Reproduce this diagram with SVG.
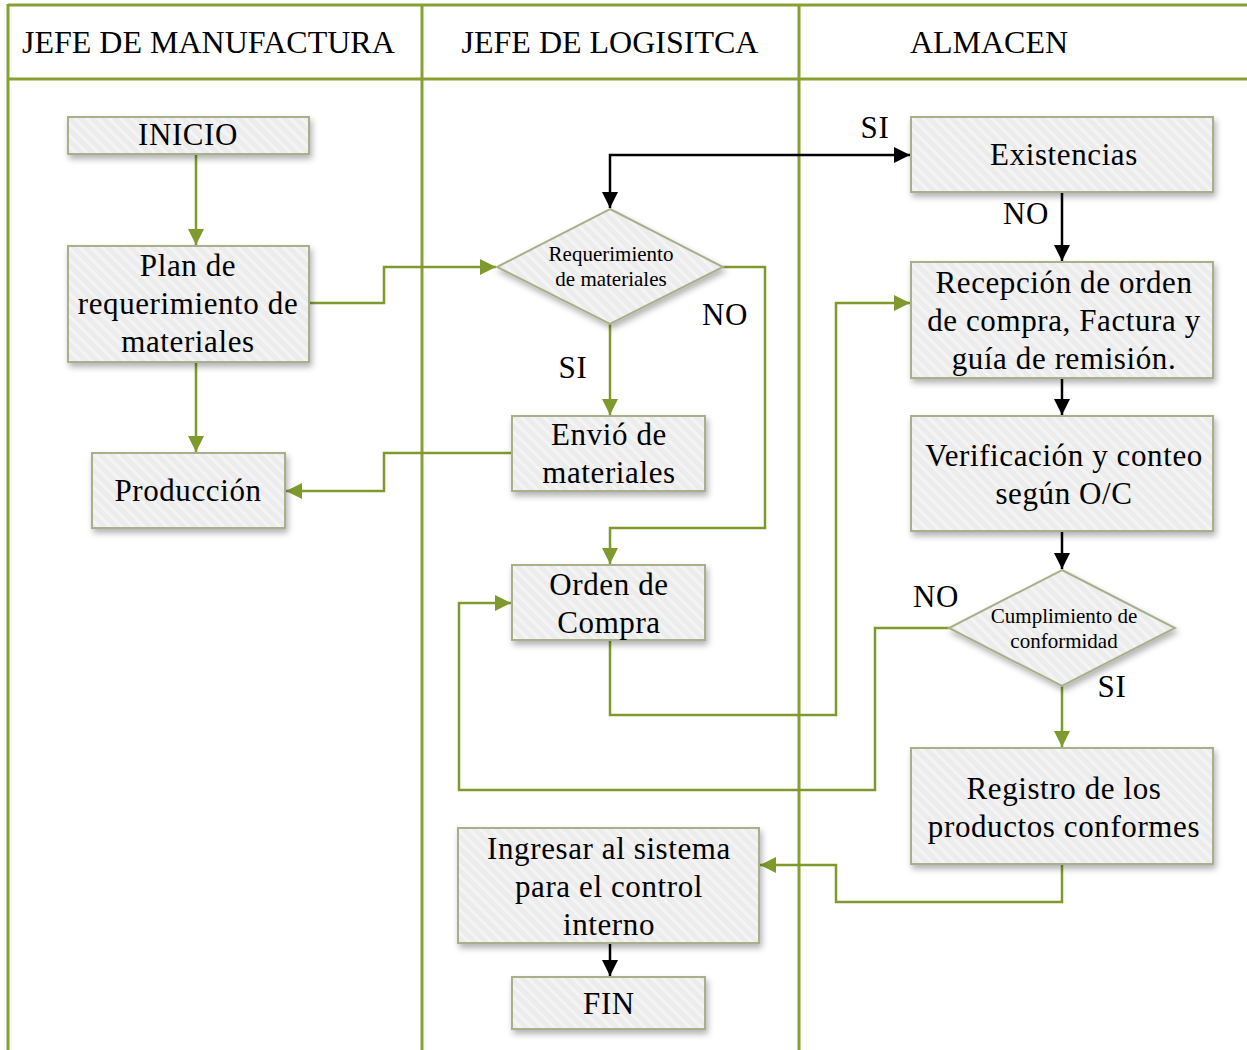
<svg xmlns="http://www.w3.org/2000/svg" width="1247" height="1050" viewBox="0 0 1247 1050">
<defs>
<pattern id="hatch" patternUnits="userSpaceOnUse" width="8" height="8" patternTransform="rotate(-45)">
<rect width="8" height="8" fill="#ececec"/>
<rect width="3" height="8" fill="#f4f4f4"/>
</pattern>
<filter id="sh" x="-10%" y="-10%" width="125%" height="140%">
<feDropShadow dx="2" dy="4" stdDeviation="3" flood-color="#000" flood-opacity="0.3"/>
</filter>
<marker id="ag" viewBox="0 0 10 10" refX="10" refY="5" markerWidth="16" markerHeight="16" markerUnits="userSpaceOnUse" orient="auto">
<path d="M0,0 L10,5 L0,10 Z" fill="#7f9a2c"/>
</marker>
<marker id="ab" viewBox="0 0 10 10" refX="10" refY="5" markerWidth="16" markerHeight="16" markerUnits="userSpaceOnUse" orient="auto-start-reverse">
<path d="M0,0 L10,5 L0,10 Z" fill="#000"/>
</marker>
</defs>
<style>
.lane{stroke:#86a032;stroke-width:3;fill:none}
.box{fill:url(#hatch);stroke:#a8b08b;stroke-width:2;filter:url(#sh)}
.t{font-family:"Liberation Serif","Times New Roman",serif;font-size:31px;letter-spacing:0.6px;fill:#000;text-anchor:middle}
.s{font-family:"Liberation Serif","Times New Roman",serif;font-size:21px;fill:#000;text-anchor:middle}
.h{font-family:"Liberation Serif","Times New Roman",serif;font-size:32px;fill:#000}
.g{stroke:#7f9a2c;stroke-width:2.5;fill:none;marker-end:url(#ag)}
.k{stroke:#000;stroke-width:2.5;fill:none;marker-end:url(#ab)}
</style>
<rect width="1247" height="1050" fill="#fff"/>
<g id="lanes">
<line class="lane" x1="8" y1="5" x2="1247" y2="5"/>
<line class="lane" x1="8" y1="79" x2="1247" y2="79"/>
<line class="lane" x1="8" y1="4" x2="8" y2="1050"/>
<line class="lane" x1="422" y1="4" x2="422" y2="1050"/>
<line class="lane" x1="799" y1="4" x2="799" y2="1050"/>
<text class="h" x="22" y="53">JEFE DE MANUFACTURA</text>
<text class="h" x="610" y="53" text-anchor="middle">JEFE DE LOGISITCA</text>
<text class="h" x="989" y="53" text-anchor="middle">ALMACEN</text>
</g>
<g id="connectors">
<path class="g" d="M196,154 V245"/>
<path class="g" d="M196,362 V452"/>
<path class="g" d="M309,303 H384 V267 H496"/>
<path class="g" d="M512,453 H384 V491 H286"/>
<path class="g" d="M610,324 V415"/>
<path class="g" d="M723,267 H765 V528 H610 V564"/>
<path class="k" style="marker-start:url(#ab)" d="M610,208 V155 H910"/>
<path class="k" d="M1062,192 V261"/>
<path class="k" d="M1062,378 V415"/>
<path class="k" d="M1062,531 V569"/>
<path class="g" d="M610,640 V715 H836 V303 H910"/>
<path class="g" d="M949,628 H875 V790 H459 V603 H511"/>
<path class="g" d="M1062,686 V747"/>
<path class="g" d="M1062,864 V902 H836 V865 H760"/>
<path class="k" d="M610,943 V976"/>
<text class="t" x="573" y="378">SI</text>
<text class="t" x="725" y="325">NO</text>
<text class="t" x="875" y="138">SI</text>
<text class="t" x="1026" y="224">NO</text>
<text class="t" x="936" y="607">NO</text>
<text class="t" x="1112" y="697">SI</text>
</g>
<g id="inicio">
<rect class="box" x="68" y="117" width="241" height="37"/>
<text class="t" x="188" y="145">INICIO</text>
</g>
<g id="plan">
<rect class="box" x="68" y="246" width="241" height="116"/>
<text class="t" x="188" y="276">Plan de</text>
<text class="t" x="188" y="314">requerimiento de</text>
<text class="t" x="188" y="352">materiales</text>
</g>
<g id="produccion">
<rect class="box" x="92" y="453" width="193" height="75"/>
<text class="t" x="188" y="501">Producción</text>
</g>
<g id="requerimiento">
<polygon class="box" points="610,209 723,267 610,324 497,267"/>
<text class="s" x="611" y="261">Requerimiento</text>
<text class="s" x="611" y="286">de materiales</text>
</g>
<g id="envio">
<rect class="box" x="512" y="416" width="193" height="75"/>
<text class="t" x="609" y="445">Envió de</text>
<text class="t" x="609" y="483">materiales</text>
</g>
<g id="orden">
<rect class="box" x="512" y="565" width="193" height="75"/>
<text class="t" x="609" y="595">Orden de</text>
<text class="t" x="609" y="633">Compra</text>
</g>
<g id="existencias">
<rect class="box" x="911" y="117" width="302" height="75"/>
<text class="t" x="1064" y="165">Existencias</text>
</g>
<g id="recepcion">
<rect class="box" x="911" y="262" width="302" height="116"/>
<text class="t" x="1064" y="293">Recepción de orden</text>
<text class="t" x="1064" y="331">de compra, Factura y</text>
<text class="t" x="1064" y="369">guía de remisión.</text>
</g>
<g id="verificacion">
<rect class="box" x="911" y="416" width="302" height="115"/>
<text class="t" x="1064" y="466">Verificación y conteo</text>
<text class="t" x="1064" y="504">según O/C</text>
</g>
<g id="cumplimiento">
<polygon class="box" points="1062,570 1175,628 1062,686 949,628"/>
<text class="s" x="1064" y="623">Cumplimiento de</text>
<text class="s" x="1064" y="648">conformidad</text>
</g>
<g id="registro">
<rect class="box" x="911" y="748" width="302" height="116"/>
<text class="t" x="1064" y="799">Registro de los</text>
<text class="t" x="1064" y="837">productos conformes</text>
</g>
<g id="ingresar">
<rect class="box" x="458" y="828" width="301" height="115"/>
<text class="t" x="609" y="859">Ingresar al sistema</text>
<text class="t" x="609" y="897">para el control</text>
<text class="t" x="609" y="935">interno</text>
</g>
<g id="fin">
<rect class="box" x="512" y="977" width="193" height="52"/>
<text class="t" x="609" y="1014">FIN</text>
</g>
</svg>
